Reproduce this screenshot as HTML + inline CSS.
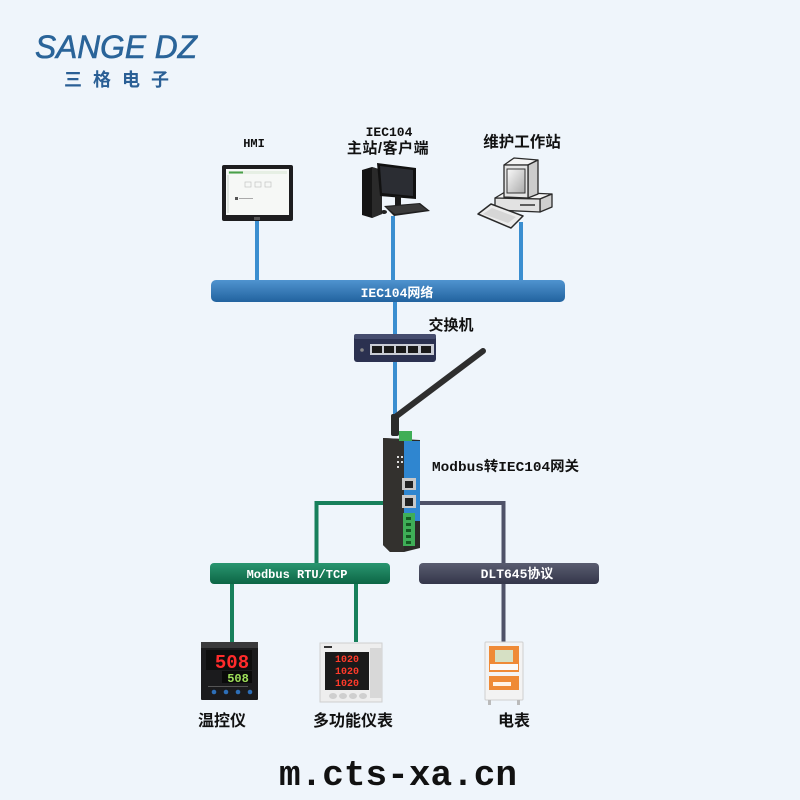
<!DOCTYPE html>
<html><head><meta charset="utf-8"><style>
html,body{margin:0;padding:0;background:#eff5fb;}
svg{display:block;}
.lb{font-family:"Liberation Mono","Noto Sans CJK SC",monospace;font-weight:bold;fill:#111;}
.cj{font-family:"Liberation Sans","Noto Sans CJK SC",sans-serif;font-weight:bold;fill:#111;}
.wt{font-family:"Liberation Mono","Noto Sans CJK SC",monospace;font-weight:bold;fill:#fff;}
</style></head><body>
<svg width="800" height="800" viewBox="0 0 800 800" xmlns="http://www.w3.org/2000/svg">
<defs>
<linearGradient id="gb" x1="0" y1="0" x2="0" y2="1"><stop offset="0" stop-color="#4f93cf"/><stop offset="1" stop-color="#22639f"/></linearGradient>
<linearGradient id="gg" x1="0" y1="0" x2="0" y2="1"><stop offset="0" stop-color="#2a9670"/><stop offset="1" stop-color="#0c6545"/></linearGradient>
<linearGradient id="gd" x1="0" y1="0" x2="0" y2="1"><stop offset="0" stop-color="#5a5d70"/><stop offset="1" stop-color="#34364a"/></linearGradient>
<linearGradient id="scr" x1="0" y1="0" x2="1" y2="1"><stop offset="0" stop-color="#fafafa"/><stop offset="1" stop-color="#aaa"/></linearGradient>
</defs>
<rect width="800" height="800" fill="#eff5fb"/>

<!-- Logo -->
<text x="35" y="58" font-family="Liberation Sans, sans-serif" font-style="italic" font-size="32" fill="#2a6499" stroke="#2a6499" stroke-width="0.6" textLength="162" lengthAdjust="spacingAndGlyphs">SANGE DZ</text>
<g font-family="Liberation Sans, Noto Sans CJK SC, sans-serif" font-weight="bold" font-size="18" fill="#2a5f95" text-anchor="middle">
<text x="73" y="86">三</text><text x="102" y="86">格</text><text x="131" y="86">电</text><text x="160" y="86">子</text>
</g>

<!-- Top labels -->
<text class="lb" x="254" y="147" font-size="12" text-anchor="middle">HMI</text>
<text class="lb" x="389" y="136" font-size="13" text-anchor="middle">IEC104</text>
<text class="cj" x="388" y="153" font-size="15" text-anchor="middle" letter-spacing="0.5">主站/客户端</text>
<text class="cj" x="522" y="147" font-size="15.5" text-anchor="middle">维护工作站</text>

<!-- Blue lines -->
<g stroke="#3a8ed0" stroke-width="4">
<line x1="257" y1="219" x2="257" y2="283"/>
<line x1="393" y1="216" x2="393" y2="283"/>
<line x1="521" y1="222" x2="521" y2="283"/>
<line x1="395" y1="300" x2="395" y2="336"/>
<line x1="395" y1="360" x2="395" y2="420"/>
</g>

<!-- HMI -->
<rect x="222" y="165" width="71" height="56" rx="2" fill="#1d1d1f"/>
<rect x="226" y="169" width="63" height="46" fill="#f6f8f6"/>
<rect x="228" y="171" width="59" height="3" fill="#e6efe4"/>
<rect x="229" y="171.5" width="14" height="2" fill="#4aa04a"/>
<rect x="227" y="175" width="2" height="38" fill="#e0e6e0"/>
<rect x="245" y="182" width="6" height="5" fill="none" stroke="#bbb" stroke-width="0.6"/>
<rect x="255" y="182" width="6" height="5" fill="none" stroke="#bbb" stroke-width="0.6"/>
<rect x="265" y="182" width="6" height="5" fill="none" stroke="#bbb" stroke-width="0.6"/>
<rect x="235" y="197" width="3" height="3" fill="#555"/>
<rect x="239" y="198" width="14" height="1" fill="#aaa"/>
<rect x="254" y="217" width="6" height="3" fill="#555"/>

<!-- PC -->
<polygon points="362,170 372,167 382,170 382,214 372,218 362,215" fill="#141414"/>
<polygon points="372,167 382,170 382,214 372,218" fill="#2a2a2a"/>
<polygon points="377,163 416,168 416,199 380,196" fill="#111"/>
<polygon points="380,166 413,170 413,196 382,193" fill="#2b2d33"/>
<rect x="395" y="196" width="6" height="10" fill="#1a1a1a"/>
<polygon points="384,206 420,203 430,211 394,216" fill="#1f1f1f"/>
<polygon points="386,207 419,204 427,210 395,214" fill="#3a3a3a"/>
<ellipse cx="384" cy="212" rx="3" ry="2" fill="#222"/>

<!-- Workstation -->
<!-- base -->
<polygon points="495,198 505,192 552,194 540,199" fill="#f2f2f2" stroke="#2a2a2a" stroke-width="1.3" stroke-linejoin="round"/>
<polygon points="540,199 552,194 552,207 540,212" fill="#cfcfcf" stroke="#2a2a2a" stroke-width="1.3" stroke-linejoin="round"/>
<polygon points="495,198 540,199 540,212 495,210" fill="#e2e2e2" stroke="#2a2a2a" stroke-width="1.3" stroke-linejoin="round"/>
<line x1="520" y1="205" x2="535" y2="205" stroke="#333" stroke-width="1.5"/>
<!-- monitor -->
<polygon points="504,165 514,158 538,160 528,165" fill="#f4f4f4" stroke="#2a2a2a" stroke-width="1.3" stroke-linejoin="round"/>
<polygon points="528,165 538,160 538,194 528,198" fill="#cccccc" stroke="#2a2a2a" stroke-width="1.3" stroke-linejoin="round"/>
<polygon points="504,165 528,165 528,198 504,197" fill="#e4e4e4" stroke="#2a2a2a" stroke-width="1.3" stroke-linejoin="round"/>
<rect x="507" y="169" width="18" height="24" fill="url(#scr)" stroke="#333" stroke-width="1"/>
<!-- keyboard -->
<polygon points="478,214 491,204 523,216 511,228" fill="#ececec" stroke="#2a2a2a" stroke-width="1.5" stroke-linejoin="round"/>
<polygon points="483,214 492,208 516,217 508,223" fill="#d6d6d6"/>

<!-- IEC104 bus -->
<rect x="211" y="280" width="354" height="22" rx="5" fill="url(#gb)"/>
<text class="wt" x="397" y="297" font-size="13" text-anchor="middle">IEC104网络</text>

<!-- Switch -->
<rect x="354" y="334" width="82" height="28" rx="3" fill="#2b3150"/>
<rect x="354" y="334" width="82" height="5" rx="2" fill="#454c6e"/>
<rect x="370" y="344" width="64" height="11" fill="#c9ccd4"/>
<g fill="#1a1a1a">
<rect x="372" y="346" width="10" height="7"/><rect x="384" y="346" width="10" height="7"/><rect x="396" y="346" width="10" height="7"/><rect x="408" y="346" width="10" height="7"/><rect x="421" y="346" width="10" height="7"/>
</g>
<circle cx="362" cy="350" r="1.8" fill="#888"/>
<text class="cj" x="451" y="330" font-size="15" text-anchor="middle">交换机</text>

<!-- Antenna -->
<line x1="394" y1="418" x2="483" y2="351" stroke="#2e2e2e" stroke-width="6" stroke-linecap="round"/>
<rect x="391" y="414" width="8" height="22" rx="2" fill="#2a2a2a"/>

<!-- Connectors below gateway -->
<polyline points="390,503 316.5,503 316.5,564" fill="none" stroke="#17805b" stroke-width="4"/>
<polyline points="418,503 503.5,503 503.5,642" fill="none" stroke="#4f5268" stroke-width="4"/>
<g stroke="#17805b" stroke-width="4">
<line x1="232" y1="582" x2="232" y2="642"/>
<line x1="356" y1="582" x2="356" y2="642"/>
</g>

<!-- Gateway -->
<polygon points="383,438 420,440 420,548 404,552 390,552 383,545" fill="#2b2a28"/>
<polygon points="383,438 404,439 404,552 390,552 383,545" fill="#33312e"/>
<rect x="404" y="441" width="16" height="80" fill="#2f86d0"/>
<rect x="399" y="431" width="13" height="10" fill="#3fae57"/>
<g fill="#ddd"><rect x="397" y="456" width="2" height="2"/><rect x="397" y="461" width="2" height="2"/><rect x="397" y="466" width="2" height="2"/><rect x="401" y="456" width="2" height="2"/><rect x="401" y="461" width="2" height="2"/></g>
<rect x="402" y="478" width="14" height="12" fill="#c8c8c8"/><rect x="405" y="481" width="8" height="7" fill="#222"/>
<rect x="402" y="495" width="14" height="13" fill="#c8c8c8"/><rect x="405" y="498" width="8" height="8" fill="#222"/>
<rect x="403" y="513" width="12" height="33" fill="#3fae57"/>
<g fill="#145a22"><rect x="406" y="517" width="5" height="3"/><rect x="406" y="523" width="5" height="3"/><rect x="406" y="529" width="5" height="3"/><rect x="406" y="535" width="5" height="3"/><rect x="406" y="541" width="5" height="3"/></g>
<text class="lb" x="432" y="471" font-size="14" fill="#111" textLength="147" lengthAdjust="spacingAndGlyphs">Modbus转IEC104网关</text>

<!-- Modbus bar -->
<rect x="210" y="563" width="180" height="21" rx="4" fill="url(#gg)"/>
<text class="wt" x="297" y="578" font-size="12" text-anchor="middle">Modbus RTU/TCP</text>
<!-- DLT bar -->
<rect x="419" y="563" width="180" height="21" rx="4" fill="url(#gd)"/>
<text class="wt" x="517" y="578" font-size="13" text-anchor="middle">DLT645协议</text>

<!-- Temperature controller -->
<rect x="201" y="642" width="57" height="58" rx="1" fill="#1b1b1d"/>
<rect x="201" y="642" width="57" height="6" fill="#3a3a3c"/>
<rect x="206" y="650" width="46" height="20" fill="#0e0e0e"/>
<text x="232" y="668" font-family="Liberation Mono, monospace" font-weight="bold" font-size="19" fill="#ff2b2b" text-anchor="middle">508</text>
<rect x="222" y="671" width="30" height="12" fill="#0a0a0a"/>
<text x="238" y="682" font-family="Liberation Mono, monospace" font-weight="bold" font-size="12" fill="#9fe05a" text-anchor="middle">508</text>
<g fill="#555"><rect x="208" y="686" width="40" height="1"/></g>
<g fill="#2d6fb8"><circle cx="214" cy="692" r="2.3"/><circle cx="226" cy="692" r="2.3"/><circle cx="238" cy="692" r="2.3"/><circle cx="250" cy="692" r="2.3"/></g>

<!-- Multi-function meter -->
<rect x="320" y="643" width="62" height="59" fill="#eeeeee" stroke="#cfcfcf" stroke-width="1"/>
<rect x="370" y="648" width="12" height="50" fill="#d8d8d8"/>
<rect x="325" y="652" width="44" height="38" fill="#1a1a1a"/>
<rect x="324" y="646" width="8" height="2" fill="#333"/>
<g font-family="Liberation Mono, monospace" font-weight="bold" font-size="10" fill="#ff3a2a" text-anchor="middle">
<text x="347" y="662">1020</text><text x="347" y="674">1020</text><text x="347" y="686">1020</text>
</g>
<g fill="#cfcfcf"><ellipse cx="333" cy="696" rx="4" ry="3"/><ellipse cx="343" cy="696" rx="4" ry="3"/><ellipse cx="353" cy="696" rx="4" ry="3"/><ellipse cx="363" cy="696" rx="4" ry="3"/></g>

<!-- Electric meter -->
<rect x="485" y="642" width="38" height="58" rx="1" fill="#f3f3f3" stroke="#cfcfcf" stroke-width="1"/>
<rect x="489" y="646" width="30" height="26" fill="#ef8a36"/>
<rect x="495" y="650" width="18" height="12" fill="#d6e0c4"/>
<rect x="490" y="664" width="28" height="6" fill="#fafafa"/>
<rect x="489" y="676" width="30" height="14" fill="#ef8a36"/>
<rect x="493" y="682" width="18" height="4" fill="#fff3e6"/>
<rect x="488" y="700" width="3" height="5" fill="#bbb"/><rect x="517" y="700" width="3" height="5" fill="#bbb"/>

<!-- Bottom labels -->
<text class="cj" x="222" y="726" font-size="16" text-anchor="middle">温控仪</text>
<text class="cj" x="353" y="726" font-size="16" text-anchor="middle">多功能仪表</text>
<text class="cj" x="514" y="726" font-size="16" text-anchor="middle">电表</text>

<!-- Domain -->
<text x="279" y="785" font-family="Liberation Mono, monospace" font-weight="bold" font-size="36" fill="#111" textLength="238" lengthAdjust="spacingAndGlyphs">m.cts-xa.cn</text>
</svg>
</body></html>
